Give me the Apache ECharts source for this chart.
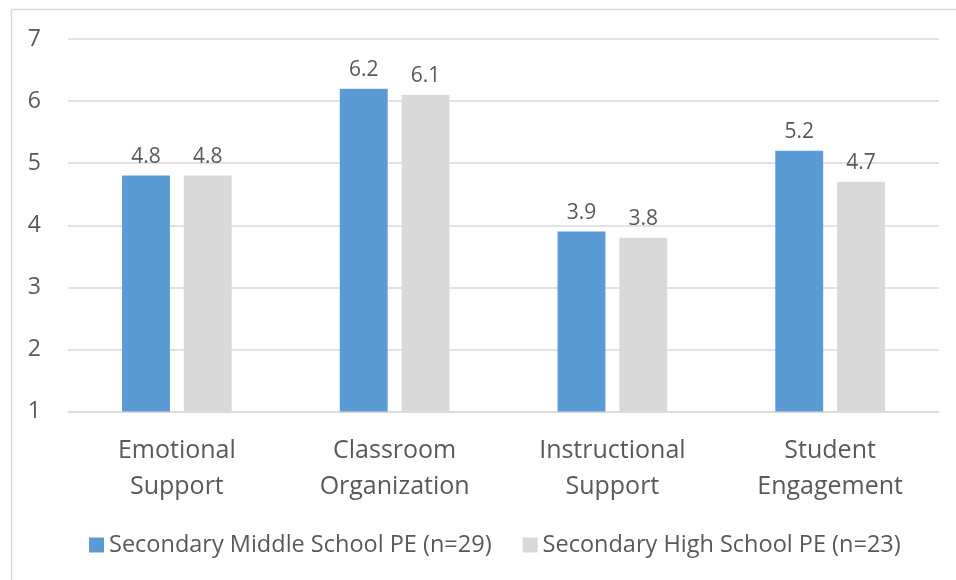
<!DOCTYPE html>
<html>
<head>
<meta charset="utf-8">
<script src="https://cdn.jsdelivr.net/npm/echarts@6/dist/echarts.min.js"></script>
<style>
  html, body { margin: 0; padding: 0; background: #fff; }
  #chart { width: 956px; height: 580px; }
</style>
</head>
<body>
<div id="chart"></div>
<script>
// CLASS domain scores by school level
const categories = ['Emotional\nSupport', 'Classroom\nOrganization', 'Instructional\nSupport', 'Student\nEngagement'];
const middleSchool = [4.8, 6.2, 3.9, 5.2];
const highSchool = [4.8, 6.1, 3.8, 4.7];
const seriesNames = ['Secondary Middle School PE (n=29)', 'Secondary High School PE (n=23)'];

const FONT = '"Open Sans", sans-serif';
const TEXT = '#595959';

const chart = echarts.init(document.getElementById('chart'), null, { renderer: 'canvas' });

const labelCfg = {
  show: true,
  position: 'top',
  distance: 8,
  color: TEXT,
  fontFamily: FONT,
  fontSize: 21,
  formatter: p => p.value.toFixed(1)
};

chart.setOption({
  animation: false,
  backgroundColor: '#ffffff',
  graphic: [{
    type: 'rect',
    left: 9, top: 7,
    shape: { width: 960, height: 590 },
    style: { fill: 'none', stroke: '#d9d9d9', lineWidth: 1.5 },
    silent: true
  }],
  grid: { left: 68, right: 17, top: 39, bottom: 168.5, containLabel: false },
  legend: {
    top: 533,
    left: 89,
    padding: 0,
    itemWidth: 15,
    itemHeight: 15,
    itemGap: 31,
    icon: 'rect',
    textStyle: { color: TEXT, fontFamily: FONT, fontSize: 23.5 },
    data: seriesNames
  },
  xAxis: {
    type: 'category',
    data: categories,
    axisLine: { lineStyle: { color: '#d9d9d9', width: 1.5 } },
    axisTick: { show: false },
    axisLabel: { color: TEXT, fontFamily: FONT, fontSize: 25, lineHeight: 36, margin: 21 }
  },
  yAxis: {
    type: 'value',
    min: 1, max: 7, interval: 1,
    axisLine: { show: false },
    axisTick: { show: false },
    splitLine: { lineStyle: { color: '#d9d9d9', width: 1.5 } },
    axisLabel: { color: TEXT, fontFamily: FONT, fontSize: 23, margin: 27 }
  },
  series: [
    {
      name: seriesNames[0], type: 'bar', data: middleSchool,
      barWidth: '22%', barGap: '29%',
      itemStyle: { color: '#5b9bd5' },
      label: labelCfg
    },
    {
      name: seriesNames[1], type: 'bar', data: highSchool,
      barWidth: '22%',
      itemStyle: { color: '#d9d9d9' },
      label: labelCfg
    }
  ]
});
</script>
</body>
</html>
